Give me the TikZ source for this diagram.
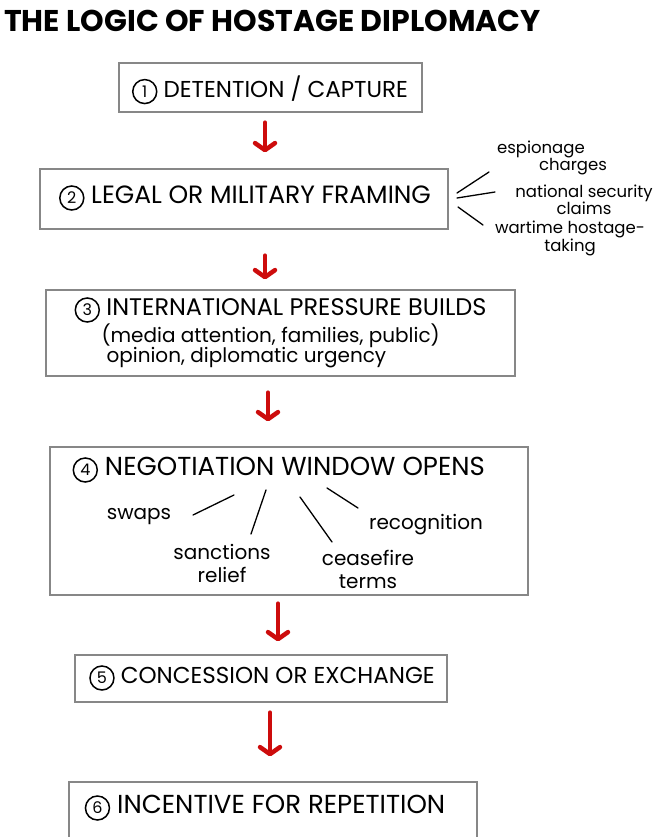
\documentclass[tikz,border=0pt]{standalone}
\usepackage{fontspec}
\setmainfont{Poppins}
\usetikzlibrary{arrows.meta}
\definecolor{boxgray}{RGB}{135,135,135}
\definecolor{arrred}{RGB}{205,12,12}
\newcommand\cnum[1]{\tikz[baseline=(cn.base)]\node[draw=black,circle,line width=1.5pt,inner sep=0pt,minimum size=24pt,font=\fontsize{16}{16}\selectfont](cn){#1};}
\tikzset{
  box/.style={draw=boxgray,line width=1.3pt,inner sep=0pt},
  main/.style={font=\fontsize{#1}{26}\selectfont},
  sub/.style={font=\fontsize{20}{23}\selectfont},
  note/.style={font=\fontsize{16.5}{17}\selectfont,inner sep=0pt},
  lead/.style={line width=1.3pt,line cap=round},
  redarrow/.style={draw=arrred,line width=4.5pt,line cap=round,
    -{Straight Barb[length=7pt,width=20pt,round]}}
}
\begin{document}
\begin{tikzpicture}[x=1pt,y=-1pt]
\useasboundingbox (0,0) rectangle (669,837);
\clip (0,0) rectangle (669,837);
\fill[white] (0,0) rectangle (669,837);
% title
\node[anchor=west,inner sep=0pt,font=\fontsize{30}{32}\selectfont\bfseries] (title) at (4,21) {THE LOGIC OF HOSTAGE DIPLOMACY};
% boxes
\node[box,minimum width=303pt,minimum height=49pt] (b1) at (270.5,87.5) {};
\node[box,minimum width=408pt,minimum height=60pt] (b2) at (244,199) {};
\node[box,minimum width=469pt,minimum height=86pt] (b3) at (280.5,333) {};
\node[box,minimum width=478pt,minimum height=148pt] (b4) at (289,521) {};
\node[box,minimum width=372pt,minimum height=47pt] (b5) at (261,678.5) {};
\node[box,minimum width=408pt,minimum height=68pt] (b6) at (273,816) {};
% box texts
\node[main=23] (t1) at (270,90) {\cnum{1} DETENTION / CAPTURE};
\node[main=25] (t2) at (245,198) {\cnum{2} LEGAL OR MILITARY FRAMING};
\node[main=24,anchor=west] (t3) at (71,310) {\cnum{3} INTERNATIONAL PRESSURE BUILDS};
\node[sub,anchor=west] (t3a) at (98,336) {(media attention, families, public)};
\node[sub,anchor=west] (t3b) at (103,358) {opinion, diplomatic urgency};
\node[main=26,anchor=west] (t4) at (69,470) {\cnum{4} NEGOTIATION WINDOW OPENS};
\node[main=23] (t5) at (262,678) {\cnum{5} CONCESSION OR EXCHANGE};
\node[main=26] (t6) at (265,808) {\cnum{6} INCENTIVE FOR REPETITION};
% box 4 outcomes
\node[sub] (swaps) at (139,517) {swaps};
\node[sub,align=center] (sanc) at (222,563) {sanctions\\relief};
\node[sub,align=center] (cease) at (368,569) {ceasefire\\terms};
\node[sub] (recog) at (426,525) {recognition};
\draw[lead] (193,515) -- (234,495);
\draw[lead] (251,534) -- (266,490);
\draw[lead] (300,497) -- (332,542);
\draw[lead] (327,488) -- (358,508);
% side notes of box 2
\node[note,align=left] (esp) at (552,158) {espionage\\\hspace*{42pt}charges};
\node[note,align=center] (nat) at (584,200) {national security\\claims};
\node[note,align=center] (war) at (570,238) {wartime hostage-\\taking};
\draw[lead] (457,193) -- (489,172);
\draw[lead] (457,198) -- (495,192);
\draw[lead] (458,207) -- (483,225);
% arrows
\coordinate (ax1) at (265,0);
\coordinate (ax2) at (265,0);
\coordinate (ax3) at (268,0);
\coordinate (ax4) at (278,0);
\coordinate (ax5) at (270,0);
\draw[redarrow,shorten <=10pt,shorten >=16pt] (b1.south -| ax1) -- (b2.north -| ax1);
\draw[redarrow,shorten <=26pt,shorten >=10pt] (b2.south -| ax2) -- (b3.north -| ax2);
\draw[redarrow,shorten <=16pt,shorten >=25pt] (b3.south -| ax3) -- (b4.north -| ax3);
\draw[redarrow,shorten <=8pt,shorten >=13pt] (b4.south -| ax4) -- (b5.north -| ax4);
\draw[redarrow,shorten <=10pt,shorten >=25pt] (b5.south -| ax5) -- (b6.north -| ax5);
\end{tikzpicture}
\end{document}
